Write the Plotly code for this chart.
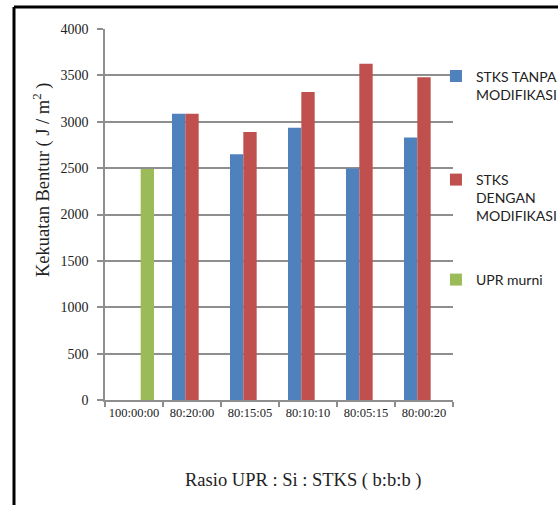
import plotly.graph_objects as go

# Flexural strength by UPR : Si : STKS ratio
ratios = ["100:00:00", "80:20:00", "80:15:05", "80:10:10", "80:05:15", "80:00:20"]
stks_tanpa = [None, 3085, 2650, 2935, 2495, 2830]
stks_dengan = [None, 3085, 2890, 3320, 3625, 3480]
upr_murni = [2490, None, None, None, None, None]

y_ticks = [0, 500, 1000, 1500, 2000, 2500, 3000, 3500, 4000]

serif = "Liberation Serif, Times New Roman, serif"
sans = "Lato, Open Sans, sans-serif"
grid = "#8e8e8e"

fig = go.Figure()
fig.add_trace(go.Bar(x=ratios, y=stks_tanpa, name="STKS TANPA<br>MODIFIKASI",
                     marker=dict(color="#4F81BD", line=dict(width=0)), legend="legend"))
fig.add_trace(go.Bar(x=ratios, y=stks_dengan, name="STKS<br>DENGAN<br>MODIFIKASI",
                     marker=dict(color="#C0504D", line=dict(width=0)), legend="legend2"))
fig.add_trace(go.Bar(x=ratios, y=upr_murni, name="UPR murni",
                     marker=dict(color="#9BBB59", line=dict(width=0)), legend="legend3"))

legend_common = dict(xanchor="left", yanchor="middle", x=0.951, valign="top",
                     bgcolor="rgba(0,0,0,0)", borderwidth=0,
                     font=dict(family=sans, size=14, color="#222222"))

fig.update_layout(
    width=558, height=505,
    margin=dict(l=105, r=105, t=29, b=105, autoexpand=False),
    paper_bgcolor="white", plot_bgcolor="white",
    barmode="group", bargap=0.31, bargroupgap=0,
    showlegend=True,
    legend=dict(y=0.8477, **legend_common),
    legend2=dict(y=0.5445, **legend_common),
    legend3=dict(y=0.3235, **legend_common),
    xaxis=dict(
        type="category", showgrid=False, showline=True, linecolor=grid, linewidth=1.5,
        ticks="outside", tickson="boundaries", ticklen=5, tickcolor=grid, tickwidth=1.5,
        tickangle=0, tickfont=dict(family=serif, size=12.5, color="#222222"),
    ),
    yaxis=dict(
        range=[0, 4000], tickvals=y_ticks, showgrid=True, gridcolor=grid, gridwidth=1.5,
        showline=True, linecolor=grid, linewidth=1.5, zeroline=False,
        ticks="outside", ticklen=6, tickcolor=grid, tickwidth=1.5, ticklabelstandoff=6,
        tickfont=dict(family=serif, size=14, color="#222222"),
    ),
    annotations=[
        dict(text="Kekuatan Bentur ( J / m<sup>2</sup> )", textangle=-90,
             xref="paper", yref="paper", x=(41 - 105) / 348, y=(400 - 180) / 371,
             xanchor="center", yanchor="middle", showarrow=False,
             font=dict(family=serif, size=18.5, color="#222222")),
        dict(text="Rasio UPR : Si : STKS ( b:b:b )",
             xref="paper", yref="paper", x=(303 - 105) / 348, y=(400 - 480) / 371,
             xanchor="center", yanchor="middle", showarrow=False,
             font=dict(family=serif, size=18.5, color="#222222")),
    ],
    shapes=[
        # frame lines along the top and left edges
        dict(type="line", xref="paper", yref="paper",
             x0=(14 - 105) / 348, x1=(560 - 105) / 348,
             y0=(400 - 7) / 371, y1=(400 - 7) / 371,
             line=dict(color="black", width=3)),
        dict(type="line", xref="paper", yref="paper",
             x0=(14 - 105) / 348, x1=(14 - 105) / 348,
             y0=(400 - 7) / 371, y1=(400 - 507) / 371,
             line=dict(color="black", width=3)),
    ],
)

fig.write_html("out.html")
